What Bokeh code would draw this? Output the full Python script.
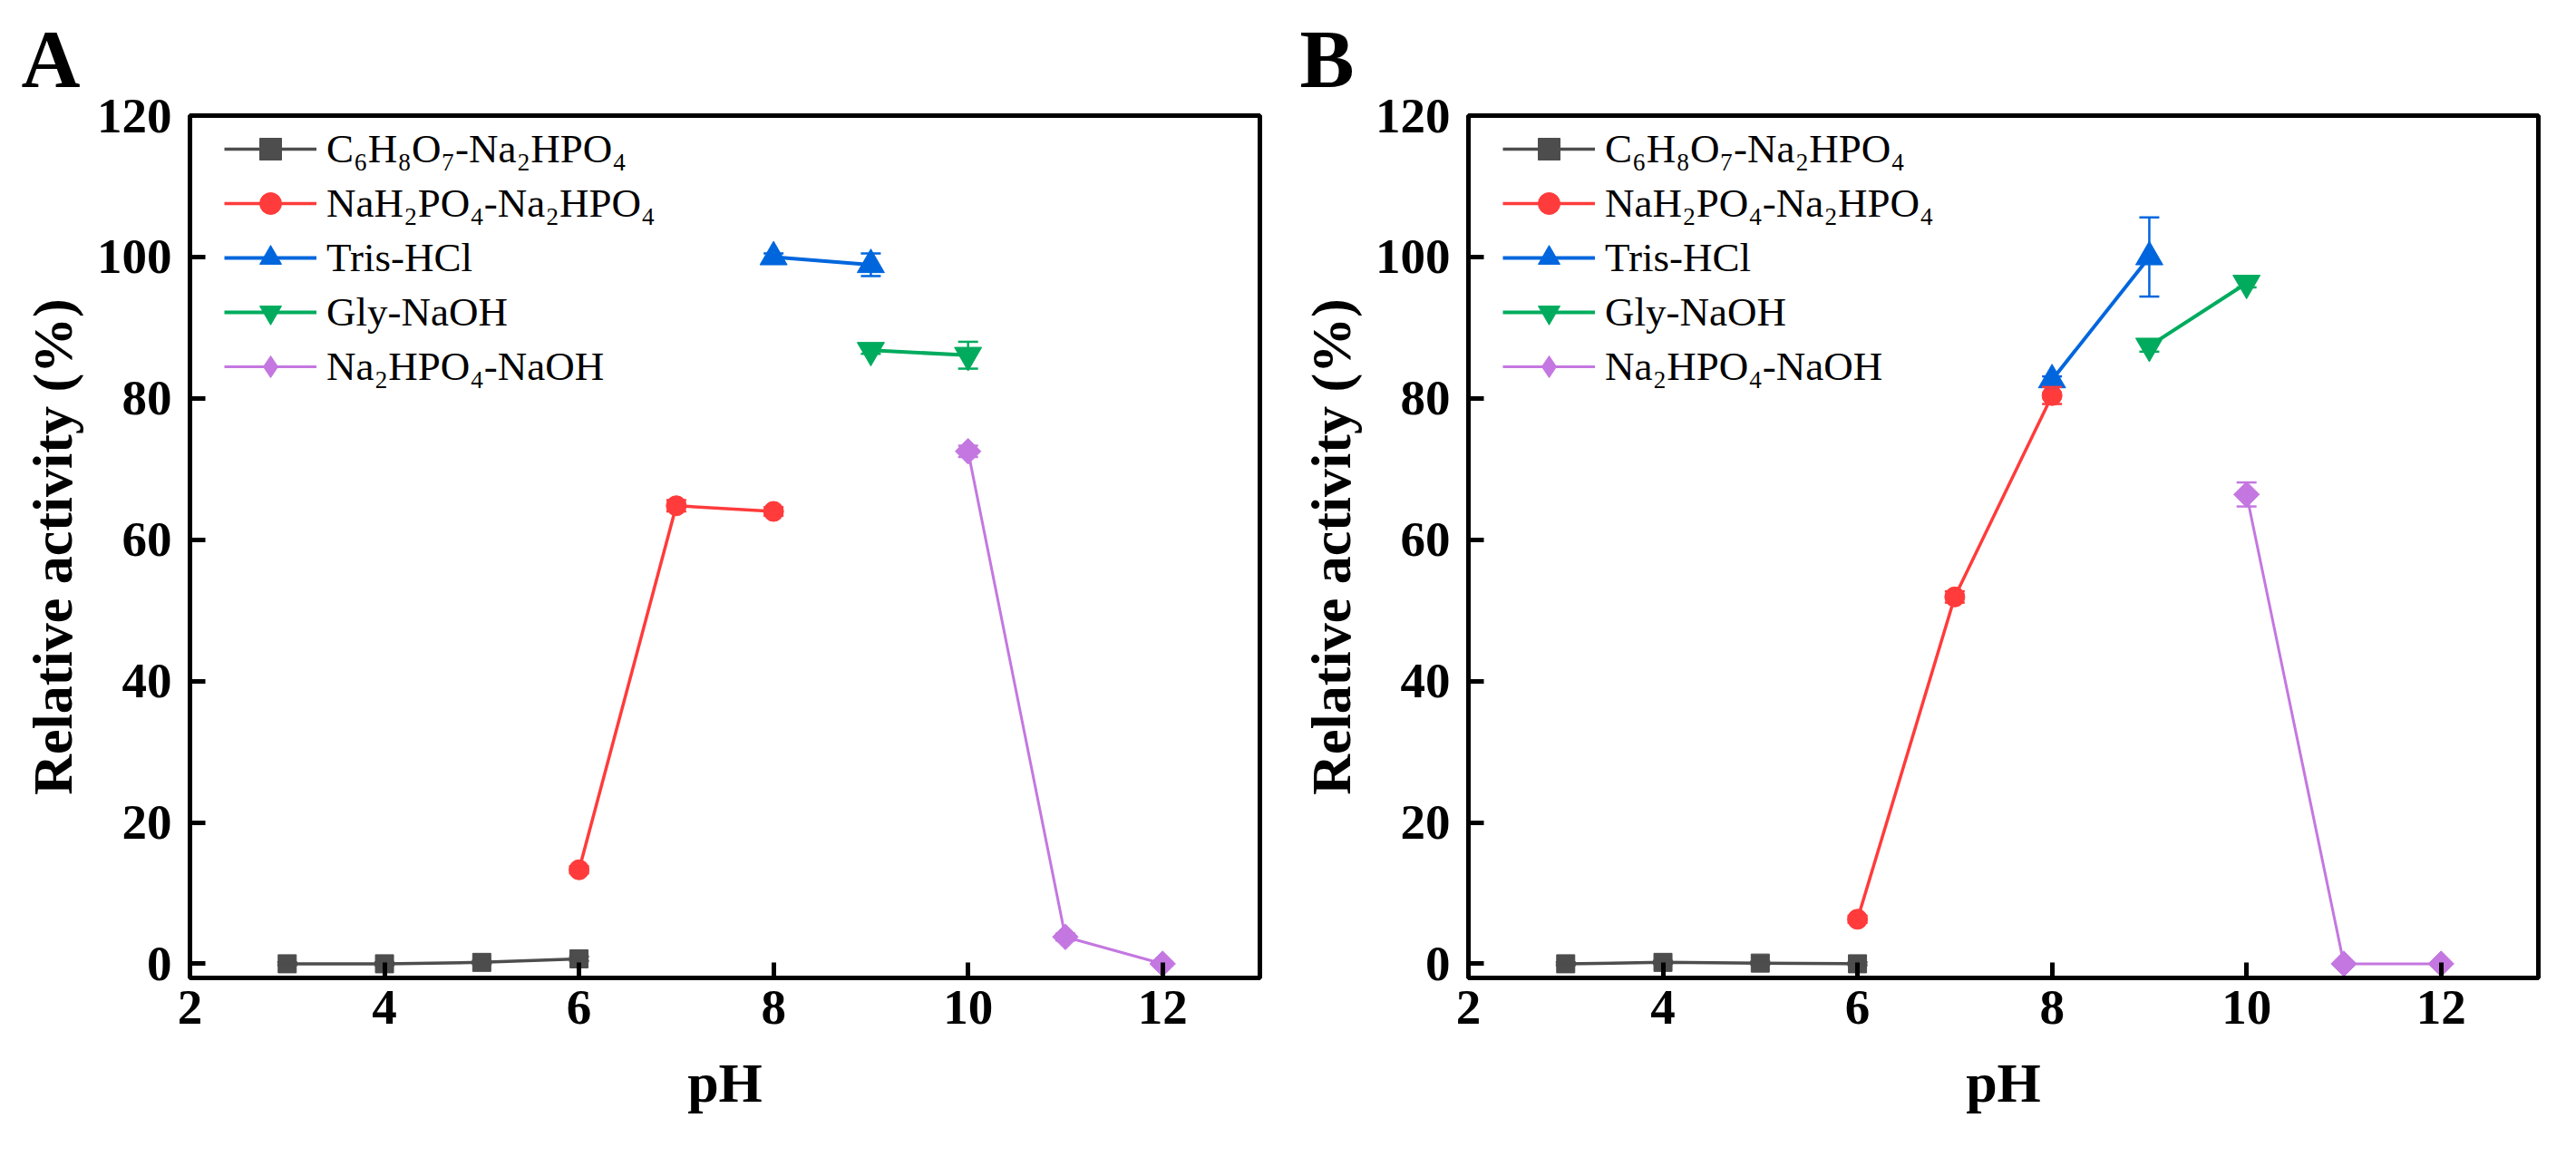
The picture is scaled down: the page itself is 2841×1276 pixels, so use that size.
import numpy as np
from bokeh.plotting import figure
from bokeh.layouts import row
from bokeh.models import (ColumnDataSource, Whisker, TeeHead, Legend, LegendItem,
                          FixedTicker, Range1d)
from bokeh.embed import file_html
from bokeh.resources import INLINE

# pH values of each buffer system
ph_citrate = [3, 4, 5, 6]
ph_phosphate = [6, 7, 8]
ph_tris = [8, 9]
ph_gly = [9, 10]
ph_naoh = [10, 11, 12]

# panel A: relative activity (%) and error
a_citrate = [0.0, 0.0, 0.2, 0.7]
a_citrate_err = [0.2, 0.2, 0.2, 0.3]
a_phosphate = [13.3, 64.8, 64.0]
a_phosphate_err = [0.5, 0.8, 0.6]
a_tris = [100.0, 98.9]
a_tris_err = [0.5, 1.6]
a_gly = [86.8, 86.1]
a_gly_err = [0.5, 1.9]
a_naoh = [72.5, 3.8, 0.0]
a_naoh_err = [0.8, 0.5, 0.3]

# panel B
b_citrate = [0.0, 0.2, 0.1, 0.0]
b_citrate_err = [0.2, 0.2, 0.2, 0.2]
b_phosphate = [6.3, 51.9, 80.4]
b_phosphate_err = [0.5, 0.8, 1.2]
b_tris = [82.6, 100.0]
b_tris_err = [0.5, 5.6]
b_gly = [87.4, 96.3]
b_gly_err = [0.8, 0.6]
b_naoh = [66.4, 0.0, 0.0]
b_naoh_err = [1.7, 0.2, 0.2]

labels = ["C₆H₈O₇-Na₂HPO₄", "NaH₂PO₄-Na₂HPO₄", "Tris-HCl", "Gly-NaOH", "Na₂HPO₄-NaOH"]
colors = ["#4D4D4D", "#FF3B3B", "#0066DD", "#00AB5E", "#C477E0"]
markers = ["square", "circle", "triangle", "inverted_triangle", "square"]
legend_markers = ["square", "circle", "triangle", "inverted_triangle", "diamond"]
sizes = [20, 22, 30, 30, 20]
angles = [0, 0, 0, 0, np.pi / 4]
widths = [3.5, 3.5, 4, 4, 3]

FONT = "Liberation Serif"


def make_panel(letter, series):
    p = figure(frame_width=1180, frame_height=951,
               x_range=Range1d(2, 13), y_range=Range1d(-2, 120),
               output_backend="svg", toolbar_location=None,
               min_border_left=209, min_border_right=21,
               min_border_top=122, min_border_bottom=187,
               title=letter)
    p.background_fill_color = "white"
    p.border_fill_color = "white"
    p.grid.visible = False
    p.outline_line_color = "black"
    p.outline_line_width = 5

    items = []
    for i, (xs, ys, es) in enumerate(series):
        c = colors[i]
        src = ColumnDataSource(dict(x=xs, y=ys,
                                    upper=[v + e for v, e in zip(ys, es)],
                                    lower=[v - e for v, e in zip(ys, es)]))
        ln = p.line("x", "y", source=src, line_color=c, line_width=widths[i])
        w = Whisker(source=src, base="x", upper="upper", lower="lower",
                    line_color=c, line_width=2.5, level="glyph",
                    upper_head=TeeHead(size=22, line_color=c, line_width=2.5),
                    lower_head=TeeHead(size=22, line_color=c, line_width=2.5))
        p.add_layout(w)
        sc = p.scatter("x", "y", source=src, marker=markers[i], size=sizes[i],
                       angle=angles[i], fill_color=c, line_color=c)
        rends = [ln, sc]
        if legend_markers[i] != markers[i]:
            # legend glyphs ignore angle, so the diamond gets its own (hidden) renderer
            dm = p.scatter("x", "y", source=src, marker=legend_markers[i],
                           size=sizes[i], fill_color=c, line_color=c, visible=False)
            rends = [ln, dm]
        items.append(LegendItem(label=labels[i], renderers=rends))

    legend = Legend(items=items, location=(38, 644),
                    glyph_width=102, glyph_height=60, label_height=60,
                    label_standoff=11, spacing=0, padding=0, margin=0,
                    border_line_alpha=0, background_fill_alpha=0,
                    label_text_font=FONT, label_text_font_size="45px",
                    label_text_color="black")
    p.add_layout(legend)

    p.xaxis.ticker = FixedTicker(ticks=[2, 4, 6, 8, 10, 12])
    p.yaxis.ticker = FixedTicker(ticks=[0, 20, 40, 60, 80, 100, 120])
    p.xaxis.axis_label = "pH"
    p.yaxis.axis_label = "Relative activity (%)"
    for ax in (p.xaxis[0], p.yaxis[0]):
        ax.axis_line_width = 5
        ax.axis_line_color = "black"
        ax.major_tick_line_width = 5
        ax.major_tick_line_color = "black"
        ax.major_tick_in = 17
        ax.major_tick_out = 0
        ax.minor_tick_in = 0
        ax.minor_tick_out = 0
        ax.major_label_text_font = FONT
        ax.major_label_text_font_style = "bold"
        ax.major_label_text_font_size = "55px"
        ax.major_label_text_color = "black"
        ax.axis_label_text_font = FONT
        ax.axis_label_text_font_style = "bold"
        ax.axis_label_text_font_size = "62px"
        ax.axis_label_text_color = "black"
    p.xaxis.major_label_standoff = 14
    p.xaxis.axis_label_standoff = 28
    p.yaxis.major_label_standoff = 20
    p.yaxis.axis_label_standoff = 12

    p.title.text_font = FONT
    p.title.text_font_style = "bold"
    p.title.text_font_size = "90px"
    p.title.text_color = "black"
    p.title.align = "left"
    p.title.offset = -186
    p.title.standoff = 26
    return p


pa = make_panel("A", [(ph_citrate, a_citrate, a_citrate_err),
                      (ph_phosphate, a_phosphate, a_phosphate_err),
                      (ph_tris, a_tris, a_tris_err),
                      (ph_gly, a_gly, a_gly_err),
                      (ph_naoh, a_naoh, a_naoh_err)])
pb = make_panel("B", [(ph_citrate, b_citrate, b_citrate_err),
                      (ph_phosphate, b_phosphate, b_phosphate_err),
                      (ph_tris, b_tris, b_tris_err),
                      (ph_gly, b_gly, b_gly_err),
                      (ph_naoh, b_naoh, b_naoh_err)])

layout = row(pa, pb)
open("out.html", "w").write(file_html(layout, INLINE))
